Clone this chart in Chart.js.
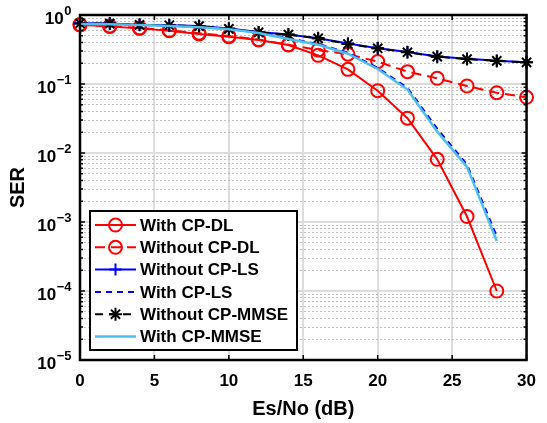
<!DOCTYPE html>
<html>
<head>
<meta charset="utf-8">
<script src="https://cdn.jsdelivr.net/npm/chart.js@4.4.0/dist/chart.umd.min.js"></script>
<style>
html, body { margin: 0; padding: 0; background: #fff; }
</style>
</head>
<body>
<canvas id="serChart" width="547" height="423"></canvas>
<script>
// Es/No in dB, one point every 2 dB
const snrDb = [0, 2, 4, 6, 8, 10, 12, 14, 16, 18, 20, 22, 24, 26, 28, 30];

// SER values (log axis)
const withCpDl     = [0.72, 0.68, 0.64, 0.59, 0.53, 0.485, 0.434, 0.367, 0.26, 0.163, 0.080, 0.032, 0.0081, 0.0012, 0.0001];
const withoutCpDl  = [0.72, 0.69, 0.65, 0.60, 0.545, 0.495, 0.44, 0.37, 0.31, 0.27, 0.211, 0.151, 0.121, 0.0935, 0.0748, 0.0642];
const withoutCpLs  = [0.76, 0.75, 0.725, 0.71, 0.69, 0.635, 0.565, 0.52, 0.46, 0.385, 0.33, 0.29, 0.25, 0.232, 0.217, 0.207];
const withCpLs     = [0.75, 0.74, 0.72, 0.70, 0.67, 0.63, 0.56, 0.46, 0.38, 0.285, 0.172, 0.088, 0.0225, 0.0068, 0.00062];
const withoutCpMmse = [0.755, 0.75, 0.72, 0.71, 0.69, 0.63, 0.56, 0.52, 0.459, 0.38, 0.329, 0.288, 0.249, 0.23, 0.216, 0.206];
const withCpMmse   = [0.74, 0.735, 0.715, 0.695, 0.665, 0.62, 0.55, 0.45, 0.37, 0.275, 0.165, 0.083, 0.0204, 0.0063, 0.00053];

const yExponents = [0, -1, -2, -3, -4, -5];

const fontFamily = '"Liberation Sans", Arial, Helvetica, sans-serif';
Chart.defaults.font.family = fontFamily;
Chart.defaults.color = '#000';

pts = (vals) => vals.map((v, i) => ({ x: snrDb[i], y: v }));

// 1..9 x 10^k grid values for the log axis
let yGridValues = [];
for (let k = -5; k < 0; k++) {
    for (let m = 1; m <= 9; m++) {
        yGridValues.push(m * Math.pow(10, k));
    }
}
yGridValues.push(1);

isDecade = (v) => {
    if (v === undefined) return true;
    let l = Math.log10(v);
    return Math.abs(l - Math.round(l)) < 1e-6;
};

function drawMarker(ctx, style, x, y, r) {
    ctx.beginPath();
    if (style === 'circle') {
        ctx.arc(x, y, r, 0, Math.PI * 2);
    } else if (style === 'cross') {
        ctx.moveTo(x - r, y); ctx.lineTo(x + r, y);
        ctx.moveTo(x, y - r); ctx.lineTo(x, y + r);
    } else if (style === 'star') {
        for (let a = 0; a < 4; a++) {
            let ang = a * Math.PI / 4;
            let dx = Math.cos(ang) * r, dy = Math.sin(ang) * r;
            ctx.moveTo(x - dx, y - dy); ctx.lineTo(x + dx, y + dy);
        }
    }
    ctx.stroke();
}

// box, inward ticks, y labels with superscripts, legend
const decorPlugin = {
    id: 'decor',
    afterDraw(chart) {
        const ctx = chart.ctx;
        const area = chart.chartArea;
        const xs = chart.scales.x;
        const ys = chart.scales.y;
        ctx.save();

        // inward ticks
        ctx.strokeStyle = '#000';
        ctx.lineWidth = 1.5;
        ctx.beginPath();
        for (let v = 0; v <= 30; v += 5) {
            let px = xs.getPixelForValue(v);
            ctx.moveTo(px, area.bottom); ctx.lineTo(px, area.bottom - 5);
            ctx.moveTo(px, area.top); ctx.lineTo(px, area.top + 5);
        }
        yGridValues.forEach(v => {
            let py = ys.getPixelForValue(v);
            let len = isDecade(v) ? 5 : 3;
            ctx.moveTo(area.left, py); ctx.lineTo(area.left + len, py);
            ctx.moveTo(area.right, py); ctx.lineTo(area.right - len, py);
        });
        ctx.stroke();

        // axes box
        ctx.lineWidth = 2.5;
        ctx.strokeRect(area.left, area.top, area.right - area.left, area.bottom - area.top);

        // y tick labels 10^k
        ctx.fillStyle = '#000';
        yExponents.forEach(e => {
            let py = ys.getPixelForValue(Math.pow(10, e));
            let sup = e < 0 ? '\u2212' + (-e) : String(e);
            ctx.font = 'bold 13px ' + fontFamily;
            let supW = ctx.measureText(sup).width;
            ctx.textBaseline = 'middle';
            ctx.textAlign = 'right';
            ctx.fillText(sup, 71.5, py - 4);
            ctx.font = 'bold 17px ' + fontFamily;
            ctx.fillText('10', 71.5 - supW - 0.5, py + 4.5);
        });

        // legend
        const bx = 90, by = 211, bw = 207, bh = 139;
        ctx.fillStyle = '#fff';
        ctx.fillRect(bx, by, bw, bh);
        ctx.lineWidth = 2;
        ctx.strokeStyle = '#000';
        ctx.strokeRect(bx, by, bw, bh);
        chart.data.datasets.forEach((ds, i) => {
            let ry = by + 14 + i * 22.3;
            ctx.strokeStyle = ds.borderColor;
            ctx.lineWidth = ds.borderWidth;
            ctx.setLineDash(ds.borderDash || []);
            ctx.beginPath();
            ctx.moveTo(bx + 5, ry); ctx.lineTo(bx + 46, ry);
            ctx.stroke();
            ctx.setLineDash([]);
            if (ds.pointRadius > 0) {
                ctx.lineWidth = ds.pointBorderWidth;
                drawMarker(ctx, ds.pointStyle, bx + 25.5, ry, ds.pointRadius);
            }
            ctx.fillStyle = '#000';
            ctx.font = 'bold 17px ' + fontFamily;
            ctx.textAlign = 'left';
            ctx.textBaseline = 'middle';
            ctx.fillText(ds.label, bx + 50, ry + 1);
        });
        ctx.restore();
    }
};

let ctx = document.getElementById('serChart').getContext('2d');
let serChart = new Chart(ctx, {
    type: 'line',
    data: {
        datasets: [{
            label: 'With CP-DL',
            data: pts(withCpDl),
            borderColor: '#ff0000',
            borderWidth: 2,
            borderDash: [],
            pointStyle: 'circle',
            pointRadius: 6.5,
            pointBorderWidth: 2,
            pointBorderColor: '#ff0000',
            pointBackgroundColor: 'rgba(0,0,0,0)',
            order: 6
        }, {
            label: 'Without CP-DL',
            data: pts(withoutCpDl),
            borderColor: '#ff0000',
            borderWidth: 2,
            borderDash: [10, 6],
            pointStyle: 'circle',
            pointRadius: 6.5,
            pointBorderWidth: 2,
            pointBorderColor: '#ff0000',
            pointBackgroundColor: 'rgba(0,0,0,0)',
            order: 5
        }, {
            label: 'Without CP-LS',
            data: pts(withoutCpLs),
            borderColor: '#0000ff',
            borderWidth: 2,
            borderDash: [],
            pointStyle: 'cross',
            pointRadius: 6,
            pointBorderWidth: 2,
            pointBorderColor: '#0000ff',
            order: 4
        }, {
            label: 'With CP-LS',
            data: pts(withCpLs),
            borderColor: '#0000ff',
            borderWidth: 2,
            borderDash: [6, 5],
            pointRadius: 0,
            order: 3
        }, {
            label: 'Without CP-MMSE',
            data: pts(withoutCpMmse),
            borderColor: '#000000',
            borderWidth: 2,
            borderDash: [8, 6],
            pointStyle: 'star',
            pointRadius: 6.5,
            pointBorderWidth: 2,
            pointBorderColor: '#000000',
            order: 2
        }, {
            label: 'With CP-MMSE',
            data: pts(withCpMmse),
            borderColor: '#4dbeee',
            borderWidth: 2.5,
            borderDash: [],
            pointRadius: 0,
            order: 1
        }]
    },
    options: {
        responsive: false,
        animation: false,
        events: [],
        clip: false,
        layout: { padding: { left: 0, right: 16, top: 15, bottom: 0 } },
        elements: { line: { tension: 0, fill: false } },
        plugins: {
            legend: { display: false },
            tooltip: { enabled: false }
        },
        scales: {
            x: {
                type: 'linear',
                min: 0,
                max: 30,
                ticks: {
                    stepSize: 5,
                    maxRotation: 0,
                    padding: 11,
                    color: '#000',
                    font: { size: 17, weight: 'bold' }
                },
                grid: { color: '#dcdcdc', lineWidth: 2, drawTicks: false },
                border: { display: false },
                afterFit: (scale) => { scale.height = 63; },
                title: {
                    display: true,
                    text: 'Es/No (dB)',
                    color: '#000',
                    font: { size: 20, weight: 'bold' },
                    padding: { top: 0, bottom: 2 }
                }
            },
            y: {
                type: 'logarithmic',
                min: 1e-5,
                max: 1,
                afterBuildTicks: (scale) => { scale.ticks = yGridValues.map(v => ({ value: v })); },
                afterFit: (scale) => { scale.width = 80; },
                ticks: { display: false },
                grid: {
                    color: (c) => isDecade(c.tick && c.tick.value) ? '#dcdcdc' : '#bfbfbf',
                    lineWidth: (c) => isDecade(c.tick && c.tick.value) ? 2 : 1,
                    drawTicks: false
                },
                border: {
                    display: false,
                    dash: (c) => isDecade(c.tick && c.tick.value) ? [] : [2, 2]
                },
                title: {
                    display: true,
                    text: 'SER',
                    color: '#000',
                    font: { size: 20, weight: 'bold' },
                    padding: { top: 6, bottom: 0 }
                }
            }
        }
    },
    plugins: [decorPlugin]
});
</script>
</body>
</html>
